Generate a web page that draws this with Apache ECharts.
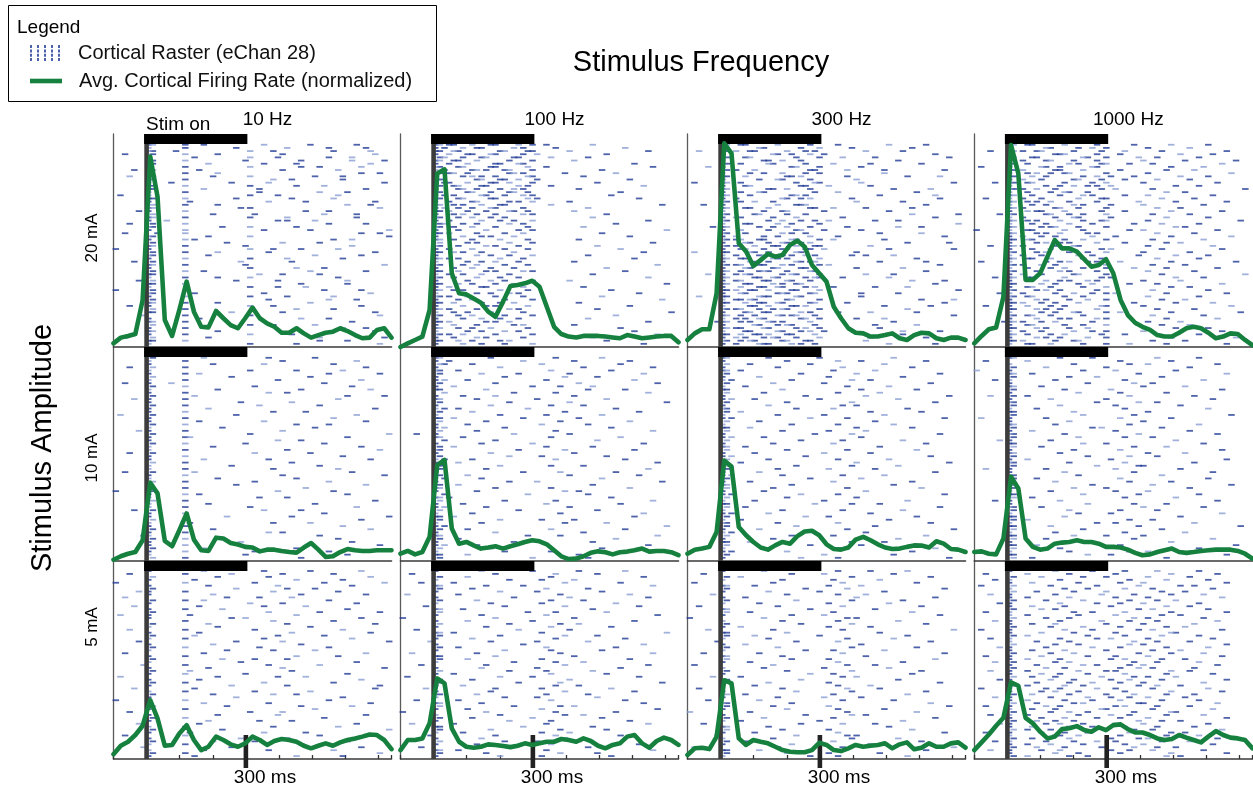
<!DOCTYPE html>
<html><head><meta charset="utf-8">
<script src="https://cdn.jsdelivr.net/npm/echarts@6/dist/echarts.min.js"></script>
<style>html,body{margin:0;padding:0;background:#fff}#c{width:1253px;height:788px}</style>
</head><body><div id="c"></div>
<script>
// ---------------- DATA ----------------
const frequencies = ['10 Hz', '100 Hz', '300 Hz', '1000 Hz'];
const amplitudes = ['20 mA', '10 mA', '5 mA'];
const stimWindow = [0, 300];          // ms, stimulus on / off
const timeRange = [-100, 740];        // ms
const scaleTickTime = 300;            // ms
const scaleTickLabel = '300 ms';
const stimOnLabel = 'Stim on';
const RASTER_NAME = 'Cortical Raster (eChan 28)';
const RATE_NAME = 'Avg. Cortical Firing Rate (normalized)';

// firing-rate bin times (ms)
const binTimes = [-100,-78,-56,-34,-12,11,33,55,77,99,121,143,165,187,210,232,254,276,298,320,342,364,386,408,431,453,475,497,519,541,563,585,607,630,652,674,696,718,740];

// normalized firing rate (% of panel height)
const rate_20mA_10Hz   = [1.7,4.4,5.2,6.1,22,89.4,70.6,12.7,5.2,17.4,30.7,16.6,9.5,9.2,16.9,13.5,10.3,8.8,13.5,18.5,13.5,11.1,9.5,6.7,6.7,8.8,6.4,4.4,5.6,6.7,7.2,8.8,7.5,5.6,4.1,4.4,8,8.8,4.4];
const rate_20mA_100Hz  = [0,1.7,3.3,4.9,17.4,81.5,83.4,34.6,25.2,24.7,22.8,20.8,16.6,14.2,21.3,28.6,29.1,29.9,31.1,28.3,18.9,9.5,6.1,4.9,4.5,5.2,5.2,5.2,4.9,4.5,4.1,5.6,4.9,4.1,4.5,4.9,5.2,5.2,2.2];
const rate_20mA_300Hz  = [3.3,6.4,8.3,8.3,25.2,95.6,90.9,48.7,44.8,38,40.8,43.7,42.4,43.2,47.9,49.9,47.1,38.5,34.6,30.7,18.9,13.5,8.8,6.7,6.4,4.9,4.9,5.6,6.4,4.1,3.3,5.6,6.7,6.4,4.1,3.3,4.4,4.4,3.3];
const rate_20mA_1000Hz = [1.7,5.2,8.3,9.2,23.6,94.8,81.5,31.5,31.5,34.6,42.4,50.2,46.3,46.3,44.8,41.2,37.7,38.5,41.2,34.6,22.1,15,11.4,9.5,8,5.6,4.9,4.9,6.7,8.8,9.5,8.8,6.7,4.1,4.9,6.4,6.1,3.3,0.9];
const rate_10mA_10Hz   = [0.6,2.2,3.4,4.2,9.7,36.6,31.6,9.4,6.9,14.4,22.2,10,5,4.7,10.9,10.5,8.4,7.7,6.6,6.3,4.5,5.3,5.3,4.7,4.2,3.9,6.3,8.4,5.3,1.9,2.2,4.2,5.6,5,4.7,4.7,5,5,5];
const rate_10mA_100Hz  = [3.4,4.7,3.1,4.2,11.3,44.8,47.2,15.2,8.1,8.9,7.3,5.8,6.3,6.9,5.8,6.9,7.8,8.9,9.7,9.2,7.8,5,2.2,0.9,1.1,2.2,3.8,4.5,4.1,3.1,4.1,4.4,5,5.8,4.4,4.7,4.7,4.1,2.7];
const rate_10mA_300Hz  = [3.4,5.3,5.8,6.6,13.6,46.9,44.1,15.9,12,8.9,6.3,5.3,7.3,8.9,8.1,11.6,13.8,14.1,12,7.8,5.6,5.3,6.3,10,11.3,9.7,7.8,6.3,5.6,5.8,6.6,7.3,7.2,6.3,9.2,8.1,5.6,5.3,4.2];
const rate_10mA_1000Hz = [4.2,4.5,3.4,3.1,10.5,39.4,33.9,10.5,6.6,5.3,5.8,8.1,8.6,8.9,9.7,8.9,8.9,8.1,6.6,6.6,6.3,5.3,3.8,2.7,3.1,4.2,5,5.8,4.2,3.8,4.2,4.7,5,5.3,5.3,5.3,4.7,3.4,1.1];
const rate_5mA_10Hz    = [2.4,6.7,8.7,12.1,16.8,29.7,20.5,6.7,7.1,12.9,17.1,9.6,4.5,6.2,11.3,9.6,7.4,6.2,7.9,11.3,9.6,7.1,9.1,10.1,9.6,8.7,6.7,5.4,6.7,7.9,6.7,8.4,9.6,10.4,11.3,12.4,12.1,9.6,5];
const rate_5mA_100Hz   = [4.5,9.6,9.6,10.4,18,40.7,38.2,15.5,8.7,6.2,5.7,6.2,7.4,7.1,6.6,6,6.7,7.9,7.1,7.9,8.7,8.7,10.1,9.6,8.7,10.4,9.1,6.7,5.4,7.1,7.9,11.3,12.1,7.9,5.7,9.1,10.8,9.6,7.1];
const rate_5mA_300Hz   = [2,5.4,5.7,5,11.3,39.8,38.2,10.4,7.1,9.6,8.7,7.9,6.2,4.5,3.7,3.4,3.4,4.5,8.2,7.1,4.5,4,5.4,7.1,6.2,6.7,7.1,7.9,5.4,7.4,8.4,4.9,5.7,7.9,6.2,6.2,7.9,8.4,5.7];
const rate_5mA_1000Hz  = [4.5,8.4,12.4,16.8,20.8,38.7,37,20.8,18,13.8,10.4,11.3,15.1,15.5,16.6,14.6,13.8,16,14.6,17.1,17.5,15.1,13.4,13.4,12.1,10.4,9.6,10.1,12.1,10.8,9.6,8.4,11.3,14.1,12.1,10.8,10.4,9.6,5.4];

// spike rasters: one token per trial, each character = a 14 ms bin starting at -100 ms
const rasterBinMs = 14;
const rasterStart = -100;
const rasterTrials = 64;
const spikeAlphabet = '0123456789abcdefghijklmnopqrstuvwxyzABCDEFGHIJKLMNOPQRSTUVWX';
const raster_20mA_10Hz = '78fjwGQ 7fqBKS 78dtyLT 28fmAU 7htzKP 78fsEPW 8kwDT 7ftEIR 478iAM 7fmRV 38ltHN 78fyCN 7cpxW 8ftDJ 78jvS 7fvIO 17tzM 78fqCL 7gxFU 8fmOT 78rtV 57fFK 8luJQ 78ftBQ 7bzBH 38fKS 78ntD 7fwGX 29fRV 78ktX 7fhLP 8oAI 78fsP 07tyEM 8fmUx 78kHR 7ftNB 48rC 78fsW 7tDJ 8fjSG 78vIA 7fmtM 58qzO 78fOE 7tzF 08fJR 78hTw 7ftBL 8xKQ 78fmG 37tRy 8fLD 78pAU 6ftV 7iEK 78fP 8tyH 7fNS 78mUC 7ftC 28kWI 78fIO 7tDV';
const raster_20mA_100Hz = '78abfjkpsvF 79dghoqxM 78bclmrsAR 7aefjkqtI 89dhiopwE 78bcgnsB 7aeklpqO 78cdjkrvS 79fgimnsH 78abenoqzK 7dfhkrsD 78ghlmptN 79aejknsG 78bchiprwQ 7cdgloqC 78efjnorL 79bhimqsJ 78cdjkrtP 7afgnpsA 78bdhlmwU 79cfjkqE 78aeinorB 7bdgkqsI 78cfjmF 7ahlosR 89dgnqK 78bfkrD 7cipsV 78agmqH 7dhjoN 78bflrC 8egnsS 78cikpG 7afmrL 78bdhoQ 7gjnsE 78aclqO 7ehkpB 78dgmrT 7bfjoI 78cikqsM 7adhnF 78bglpR 7ejmsA 78cfkoV 7ahiqD 78bdlrJ 7gjnpP 78aekqH 7cfmsU 78bhloC 7dikrN 78agnpG 7bejqW 78cfmsK 7dhlpE 78aiknR 7bgoqB 78cfjrL 7ehmpO 78adksT 7bgiqF 78cflnI 7dhmsQ';
const raster_20mA_300Hz = '78bcjqwHP 7fgoszM 278adelprCK 7ijmqtR 78cdnsxEU 7ghkoJ 78bhipvOD 47mnsB 78aeqryTG 7dgkpsG 78clmoyLS 7fjkqA 178bnrsVB 7cdopuD 78hilqIQ 7bfgrwN 78dmnpFR 7akloqzS 78beiKA 37jnopP 78cdhqrvCM 7gkltH 78eflpMW 7abinxR 78hkoruEJ 7cdjmsW 578filqyJO 7bhnotB 78ckmpOF 7agjqwT 78abfgmnsvG 7cdhkloqLU 78aeijnrsD 7bcgklpqtVH 178dehnoA 7afgkmprzIC 78bcijlsN 7dehnoqrFP 78abfgkmsuS 7cdijopKA 78bfghlqrP 47acdkmnsCI 78efijprsxH 7abghlmqMT 78cdiknoR 7bfgjkprvEL 78adehmnsW 7bcjklqrJB 278fghnoB 7abdelmsOV 78cfgjkqryT 7dehmnpGQ 78abfiklsL 7cdghoqwDN 78bejkmnrV 7acfgopsAG 678bdhikqI 7efjlmrNE 78abghnpsF 7cdjkoqtSK 78befhlmrK 7acgijnsPD 78bdeklpqC 7afghmorHR';
const raster_20mA_1000Hz = '78bcjqyGO 7fgmpsBK 378adelrwES 7hijqvIP 78cdnoszDM 7afglqAJU 78bkmrsxCR 17efipqGN 78ahinvFL 7bdgjksBT 78cfnqtyIO 7aelmrwDK 478bcjpsAQ 7filoqtHM 78adhruCW 7bgjkoFJ 78cinpwBP 27aemrsEL 78bdgkqzHS 7cflntAN 78ahimsDI 7bdejrwGR 578fgknsCK 7ahlmtFO 78bdinrsBV 7cfkpyEM 78eghmsHJ 07bcjnxAQ 78dfioqDL 7aehpuGT 78bcjnsCN 7dfikqwFI 378ahlmBP 7cgjrtER 78dfkosAK 7aempzHO 78bcgnrDM 17fikoqvGU 78aehpsCJ 7bgjnsyFQ 78dikqBL 7aelmsEW 478bcjrtHN 7fikoqAI 78ehmpxDR 7bcgnsGK 78dfiqCO 57ahlpsuFS 78bcjnBM 7dfkosEJ 78aehmyHP 27bgjrsAT 78dfiqDL 7ehlmsvGV 78bcgnCN 7dikqsFQ 678aehpBI 7bcjnszEK 78dfkoHO 7aelpsAR 78bgjrwDM 7dfiosGU 78ahlmCJ 7bcgnsxFS';
const raster_10mA_10Hz = '8jxH 7fAQ 7lwL 38fS 7tDN 7fiKV 8pG 7fzR 27cJ 8fuP 7mET 7fxB 8hOW 47fM 7rC 8fvI 7kU 7fyF 18qQ 7fL 7iwS 8fDK 7nH 57fA 8tX 7fgO 7zE 8fsJ 7lR 7fBV 38uG 7fN 7jxT 8fC 7pI 7fyM 28hP 7fAW 7mD 8fuK 7qS 7fF 08zL 7fiO 7vB 8fU 7kH 7ftQ 48wE 7fJ 7oCX 8fR 7gyG 7fN 8lT 7fxA 67I 8fM 7rP 7fV 8jD 7fuK 7sO 8fE';
const raster_10mA_100Hz = '78jxH 7aqBN 89fuL 7lDS 78cwJ 8hpAQ 7mzG 79evO 8kCT 7bsyF 78iEM 9oxR 7dkB 78gtI 8nAV 7jwD 79crK 8fzP 7lvH 78bqC 8iyN 7euE 79mJ 8gxS 37oA 78dwL 9kG 7hsQ 8bvF 78pzO 7jB 8nuI 79fxM 7cT 8lwD 78iR 7qyK 8eAP 79hH 7ntU 8cF 78kwN 7gzC 9rE 78aJ 8mxS 7dvL 79iA 8pG 7fyQ 78bO 8luB 7hzI 79V 8ewM 7kD 78ryT 8cK 7ouF 79gR 8jH 7mwN 78eC 8szE';
const raster_10mA_300Hz = '78hsI 7lwBP 8dqG 7jxM 78bvE 8oAS 7fuK 79mzD 8itQ 7cyH 78kBN 8gwF 7pCU 79esJ 8lzR 7hxA 78nvL 8bDO 7jtG 79qyT 8fE 7mwI 78dAM 8kuC 7rzS 79gB 8oxK 7ivP 78cF 8lyN 7etD 79pQ 8hwH 7bAU 78nzJ 8juE 7fR 79kxG 8qB 7dvM 78mI 8iyO 7gC 79owT 8lA 7etL 78rzF 8cS 7kxK 79hD 8puN 7bH 78jwQ 8nE 7fyV 79C 8mvP 7iJ 78dzG 8qB 7hxR 79lM 8tI 7owU';
const raster_10mA_1000Hz = '78ipDM 2bvG 7lxBQ 8fsK 07nuH 78czS 8kqE 47hwN 7oyC 78eAJ 8jtR 7mvF 38bxL 7gsP 78qzD 8iuI 7dwO 78lB 8nyT 17fvG 7kA 78hxM 8prE 7cuK 78jzQ 8mwC 57gH 78nsN 8eyF 7lvR 78iBJ 8oxD 7btS 78kwL 8qzA 27fuI 7jyP 78mE 8dvO 7hxG 78pCT 8lsK 7guB 78nzM 8cwH 47iQ 7oyF 78eAN 8kvD 7mtR 78jI 8bxC 7quL 78gzV 8nE 7hwJ 78lsA 8fyP 7pG 78dvU 8iM 7kxB 78otS 8cF';
const raster_5mA_10Hz = '7jwGR 3fpAL 8mxT 7hDN 0fuJW 7kzP 8qBH 57fyM 7lES 2ovC 8fjK 7tAQ 4iwF 7fnO 8xIV 17gD 7psR fyL 8kBU 7mG 3fuN 7iCT 8hzJ 7fwP 5qAX 7lE 8fvK 7oyH 2jS 7fDM 8nuB 7rQ 6fxI 7kAW 8gC 7fsO 1mzF 7iR 8fwL 7pBV 4hU 7fuG 8lyD 7qN 0fK 7jxT 8oEP 7fH 3tA 7mzS 8fJ 7kvC 5iQ 7fyM 8nX 7gwF 2fI 7rB 8luO 7fE 6pR 7jxL 8fV 7hDN';
const raster_5mA_100Hz = '7hsCM 2kxG 8ewQ 7nuB 4bzL 78iqS 8fvE 7ltH 1cyN 7oAR 8gwD 7juK 5mzP 78dF 8rxI 7hvT 0kB 7esO 8nyC 7iwJ 3pA 78buV 8lzG 7fxM 6jtE 7qQ 8cvK 7mwH 2gyS 78kB 8euN 7oxD 4izR 7htL 8nvF 7bwI 1lsP 78fA 8pyU 7dxC 5kuJ 7jzO 8gvE 7mtG 3cwM 78hQ 8oyB 7euT 0ixK 7lzD 8fsH 7nwN 2bvR 78qF 8jyI 7duA 6kxL 7hzV 8mtC 7gwP 4oE 78cvS 8iyG 7luJ';
const raster_5mA_300Hz = '7gwDL 3mtI 8bzQ 7kvF 1ixN 78euB 8pyT 7hsG 5lwC 7cAR 8nzK 7fuH 2jxO 78qE 8dvM 7mtS 0gyA 7kwJ 8ozP 7buD 4ixV 78lF 8esL 7hyI 6nwQ 7cB 8jzN 7pvG 3fxT 78kC 8muR 7dwK 1iyE 7gtH 8lzO 7qvM 5bxA 78oJ 8huS 7ewD 2kyF 7nzP 8cvL 7jtB 4fxI 78mQ 8iuU 7lwG 0dyN 7pzC 8gvR 7bsK 3oxE 78hH 8kuM 7ewT 6nyA 7izJ 8cvO 7mtD 1jxV 78fP 8luF 7qwL';
const raster_5mA_1000Hz = '7hpwDM 2bkuGQ 8ensBK 47ixFO 7cmvAS 18gqzIL 7jowCP 8dlsEJ 37hryGN 7bkuBR 8fnxDH 57iqvAM 7cjtFK 8ehzCO 27lpwGS 7bmuEI 8fkyBN 47irxDQ 7chsAL 8gnvFJ 17jpzCR 7eluGH 8bowEM 37iqtBP 7dkyDK 8hmxAS 57fpvFO 7cjsCI 8glzGN 27eouBR 7bitwEJ 48hkyDM 7dnqxAQ 8fjvzCL 37bmsuGK 7eiowFP 8chryBH 57gltxES 7dkpvAN 8bjnzDI 17fiquCO 7ehmwGR 8cksyFL 47gotxBJ 7bjpvEM 8dlnzAQ 27fiuwDK 7chrsCP 8gkoyGH 37bmtxFN 7ejqvBS 8dhlzEI 57finuAO 7ckpwDL 8bgsyCR 27ejoxGJ 7himvFM 8cktzBQ 47flquEK 7bgnwAP 8djryDH 37eitxCN 7hmvGS 8bkoFI';

const rates = [
  [rate_20mA_10Hz, rate_20mA_100Hz, rate_20mA_300Hz, rate_20mA_1000Hz],
  [rate_10mA_10Hz, rate_10mA_100Hz, rate_10mA_300Hz, rate_10mA_1000Hz],
  [rate_5mA_10Hz, rate_5mA_100Hz, rate_5mA_300Hz, rate_5mA_1000Hz]
];
const rasters = [
  [raster_20mA_10Hz, raster_20mA_100Hz, raster_20mA_300Hz, raster_20mA_1000Hz],
  [raster_10mA_10Hz, raster_10mA_100Hz, raster_10mA_300Hz, raster_10mA_1000Hz],
  [raster_5mA_10Hz, raster_5mA_100Hz, raster_5mA_300Hz, raster_5mA_1000Hz]
];

// ---------------- LAYOUT / STYLE ----------------
const FONT = '"Liberation Sans", Arial, sans-serif';
const GREEN = '#16813f';
const BLUE_DARK = '#213b95';
const BLUE_LIGHT = '#8a9dd2';
const colLeft = [113.5, 400.5, 687.5, 974.3];
const panelW = 278;
const rowTop = [134, 347, 561];
const rowH = [213, 214, 198];
const ampLabelY = [238, 458, 627];
const dashSize = [6.5, 1.8];

function decodeRaster(str) {
  const dark = [], light = [];
  let n = 0;
  str.trim().split(/\s+/).forEach((row, trial) => {
    if (row === '-') return;
    for (const ch of row) {
      const b = spikeAlphabet.indexOf(ch);
      if (b < 0) continue;
      const pt = [rasterStart + b * rasterBinMs + rasterBinMs / 2, trial];
      (n % 3 === 1 ? light : dark).push(pt);
      n++;
    }
  });
  return { dark, light };
}

const grids = [], xAxes = [], yAxes = [], series = [];
amplitudes.forEach((amp, r) => {
  frequencies.forEach((fq, c) => {
    const g = r * 4 + c;
    grids.push({ left: colLeft[c], top: rowTop[r], width: panelW, height: rowH[r], containLabel: false });
    xAxes.push({
      gridIndex: g, type: 'value', min: timeRange[0], max: timeRange[1], interval: 100,
      axisLine: { show: true, onZero: false, lineStyle: { color: '#3a3a3a', width: 1.6 } },
      axisTick: { show: r === 2, inside: true, length: 4, lineStyle: { color: '#333', width: 1.3 } },
      axisLabel: { show: false }, splitLine: { show: false }
    });
    yAxes.push({
      gridIndex: g, type: 'value', min: 0, max: 100,
      axisLine: { show: true, onZero: false, lineStyle: { color: '#5a5a5a', width: 1.3 } },
      axisTick: { show: false }, axisLabel: { show: false }, splitLine: { show: false }
    });
    yAxes.push({ gridIndex: g, type: 'value', inverse: true, min: -3.4, max: rasterTrials, show: false });

    const spikes = decodeRaster(rasters[r][c]);
    series.push({
      type: 'scatter', name: RASTER_NAME, xAxisIndex: g, yAxisIndex: 2 * g + 1,
      data: spikes.dark, symbol: 'rect', symbolSize: dashSize,
      itemStyle: { color: BLUE_DARK }, z: 2, silent: true
    });
    series.push({
      type: 'scatter', name: RASTER_NAME, xAxisIndex: g, yAxisIndex: 2 * g + 1,
      data: spikes.light, symbol: 'rect', symbolSize: dashSize,
      itemStyle: { color: BLUE_LIGHT }, z: 2, silent: true
    });
    series.push({
      type: 'custom', name: 'stimulus', xAxisIndex: g, yAxisIndex: 2 * g,
      data: [stimWindow], z: 4, silent: true, clip: false,
      renderItem: (params, api) => {
        const on = api.value(0), off = api.value(1);
        const top = api.coord([on, 100]);
        const bot = api.coord([on, 0]);
        const offP = api.coord([off, 100]);
        const children = [
          { type: 'rect', shape: { x: top[0] - 2.3, y: top[1], width: 4.6, height: bot[1] - top[1] }, style: { fill: '#3c3c3c' } },
          { type: 'rect', shape: { x: top[0] - 2.5, y: top[1], width: offP[0] - top[0] + 4, height: 10 }, style: { fill: '#000' } }
        ];
        if (r === 2) {
          const tk = api.coord([scaleTickTime, 0]);
          children.push({ type: 'rect', shape: { x: tk[0] - 2.3, y: tk[1] - 24, width: 4.6, height: 33 }, style: { fill: '#222' } });
        }
        return { type: 'group', children };
      }
    });
    series.push({
      type: 'line', name: RATE_NAME, xAxisIndex: g, yAxisIndex: 2 * g,
      data: binTimes.map((t, k) => [t, rates[r][c][k]]),
      symbol: 'none', showSymbol: false, clip: false,
      lineStyle: { color: GREEN, width: 4.6, join: 'round', cap: 'round' },
      itemStyle: { color: GREEN }, z: 5, silent: true
    });
  });
});

// ---------------- TEXT ----------------
function txt(text, x, y, size, opts = {}) {
  return {
    type: 'text', x, y, rotation: opts.rot ? Math.PI / 2 : 0, silent: true,
    style: { text, fontSize: size, fontFamily: FONT, fill: '#000', align: opts.align || 'center', verticalAlign: 'middle' }
  };
}
const graphics = [
  { type: 'rect', shape: { x: 8.5, y: 5.5, width: 428, height: 96 }, style: { fill: 'none', stroke: '#000', lineWidth: 1 }, silent: true },
  txt('Legend', 17, 28, 19, { align: 'left' }),
  txt('Stimulus Frequency', 701, 63, 29),
  txt('Stimulus Amplitude', 43, 448, 29, { rot: true }),
  txt(stimOnLabel, 146, 125, 19, { align: 'left' })
];
frequencies.forEach((f, c) => graphics.push(txt(f, colLeft[c] + 154, 120, 19)));
amplitudes.forEach((a, r) => graphics.push(txt(a, 92, ampLabelY[r], 17, { rot: true })));
frequencies.forEach((f, c) => graphics.push(txt(scaleTickLabel, colLeft[c] + 151.5, 778, 19)));

const rasterIcon = 'path://' + [0, 7, 14, 21, 28].map(x =>
  `M${x},0h2v3h-2z M${x},4.4h2v3h-2z M${x},8.8h2v3h-2z M${x},13h2v3h-2z`).join(' ');

const chart = echarts.init(document.getElementById('c'), null, { renderer: 'canvas' });
chart.setOption({
  animation: false,
  backgroundColor: '#fff',
  textStyle: { fontFamily: FONT },
  legend: [
    { left: 30, top: 43, itemWidth: 32, itemHeight: 16, selectedMode: false, padding: 0,
      data: [{ name: RASTER_NAME, icon: rasterIcon }],
      textStyle: { fontSize: 20, color: '#111', fontFamily: FONT, padding: [0, 0, 0, 12] } },
    { left: 30, top: 71, itemWidth: 32, itemHeight: 16, selectedMode: false, padding: 0,
      data: [{ name: RATE_NAME, icon: 'path://M0,0H32V4.6H0Z' }],
      textStyle: { fontSize: 20, color: '#111', fontFamily: FONT, padding: [0, 0, 0, 12] } }
  ],
  grid: grids, xAxis: xAxes, yAxis: yAxes, series,
  graphic: graphics
});
</script></body></html>
